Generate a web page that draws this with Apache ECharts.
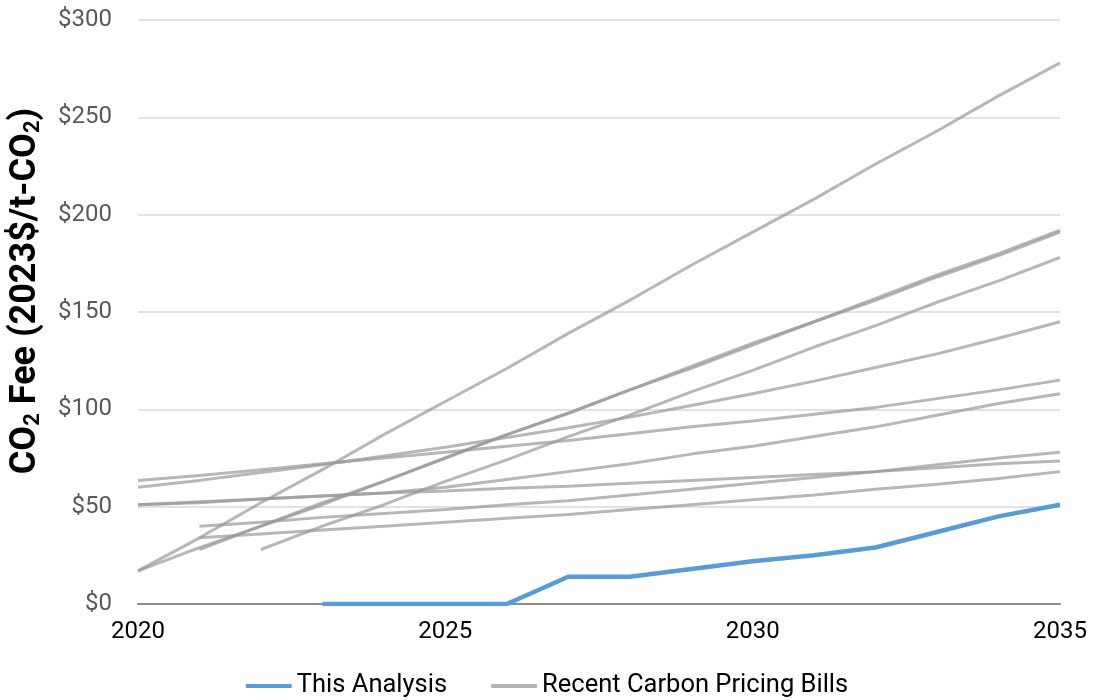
<!DOCTYPE html>
<html>
<head>
<meta charset="utf-8">
<script src="https://cdn.jsdelivr.net/npm/echarts@6/dist/echarts.min.js"></script>
<style>
html,body{margin:0;padding:0;background:#fff;}
#chart{width:1094px;height:700px;}
</style>
</head>
<body>
<div id="chart"></div>
<script>
const years = [2020, 2021, 2022, 2023, 2024, 2025, 2026, 2027, 2028, 2029, 2030, 2031, 2032, 2033, 2034, 2035];

const thisAnalysis = [null, null, null, 0, 0, 0, 0, 14, 14, 18, 22, 25, 29, 37, 45, 51];

const billA = [17, 34, 52, 69, 87, 104, 121, 139, 156, 174, 191, 208, 226, 243, 261, 278];
const billB = [17, 29, 40, 52, 63, 75, 87, 98, 110, 121, 133, 145, 156, 168, 179, 191];
const billC = [null, 28, 40, 51, 63, 75, 87, 98, 110, 122, 134, 145, 157, 169, 180, 192];
const billD = [null, null, 28, 40, 51, 63, 74, 86, 97, 109, 120, 132, 143, 155, 166, 178];
const billE = [60, 63.5, 67.5, 71.5, 76, 80.5, 85.5, 90.5, 96, 102, 108, 114.5, 121.5, 128.5, 136.5, 145];
const billF = [63.5, 66, 69, 72, 75, 78, 81, 84, 87.5, 91, 94, 97.5, 101, 105.5, 110, 115];
const billG1 = [51, 52, 54, 55.5, 57, 60, 64, 68, 72, 77, 81, 86, 91, 97, 103, 108];
const billG2 = [51, 52.5, 54, 55.5, 57, 58, 59.5, 60.5, 62, 63.5, 65, 66.5, 68, 70, 72, 73.5];
const billH = [null, 40, 42, 44.5, 46.5, 48.5, 51, 53, 56, 59, 62, 65, 68, 71.5, 75, 78];
const billI = [null, 34, 36, 38, 40, 42, 44, 46, 48.5, 51, 53.5, 56, 59, 61.5, 64.5, 68];

const bills = [billA, billB, billC, billD, billE, billF, billG1, billG2, billH, billI];

const xTicks = [2020, 2025, 2030, 2035];
const yTicks = [0, 50, 100, 150, 200, 250, 300];

const seriesName1 = 'This Analysis';
const seriesName2 = 'Recent Carbon Pricing Bills';

function pairs(arr) {
  return years.map((y, i) => [y, arr[i] === null ? '-' : arr[i]]);
}

const FONT = 'Roboto, "Noto Sans", sans-serif';

const series = bills.map(b => ({
  name: seriesName2,
  type: 'line',
  data: pairs(b),
  symbol: 'none',
  lineStyle: { color: '#999999', width: 3, opacity: 0.7 },
  itemStyle: { color: '#b3b3b3' },
  z: 2,
  silent: true
}));
series.push({
  name: seriesName1,
  type: 'line',
  data: pairs(thisAnalysis),
  symbol: 'none',
  lineStyle: { color: '#5b9bd5', width: 4.5 },
  itemStyle: { color: '#5b9bd5' },
  z: 5,
  silent: true
});

const chart = echarts.init(document.getElementById('chart'), null, { renderer: 'canvas' });
chart.setOption({
  animation: false,
  backgroundColor: '#ffffff',
  grid: { left: 136, right: 34, top: 20, bottom: 96, containLabel: false },
  xAxis: {
    type: 'value',
    min: xTicks[0],
    max: xTicks[xTicks.length - 1],
    interval: 5,
    axisLine: { show: true, lineStyle: { color: '#8c8c8c', width: 2 } },
    axisTick: { show: false },
    splitLine: { show: false },
    axisLabel: { color: '#000000', fontSize: 24, fontFamily: FONT, margin: 16, formatter: v => String(v) }
  },
  yAxis: {
    type: 'value',
    min: yTicks[0],
    max: yTicks[yTicks.length - 1],
    interval: 50,
    name: 'CO{s|2} Fee (2023$/t-CO{s|2})',
    nameLocation: 'middle',
    nameGap: 94,
    nameTextStyle: {
      color: '#000000', fontSize: 36, fontWeight: 'bold', fontFamily: FONT,
      padding: [0, 0, 0, 42],
      rich: { s: { color: '#000000', fontSize: 22, fontWeight: 'bold', fontFamily: FONT, verticalAlign: 'bottom', lineHeight: 20 } }
    },
    axisLine: { show: false },
    axisTick: { show: false },
    splitLine: { show: true, lineStyle: { color: '#d9d9d9', width: 1.5 } },
    axisLabel: { color: '#595959', fontSize: 24, fontFamily: FONT, margin: 26, formatter: v => '$' + v }
  },
  legend: {
    data: [
      { name: seriesName1, icon: 'roundRect', itemStyle: { color: '#5b9bd5' } },
      { name: seriesName2, icon: 'roundRect', itemStyle: { color: '#b3b3b3' } }
    ],
    left: 'center',
    top: 672,
    padding: 0,
    itemWidth: 46,
    itemHeight: 4,
    itemGap: 44,
    textStyle: { color: '#000000', fontSize: 25.5, fontFamily: FONT, lineHeight: 28 }
  },
  series: series
});
</script>
</body>
</html>
